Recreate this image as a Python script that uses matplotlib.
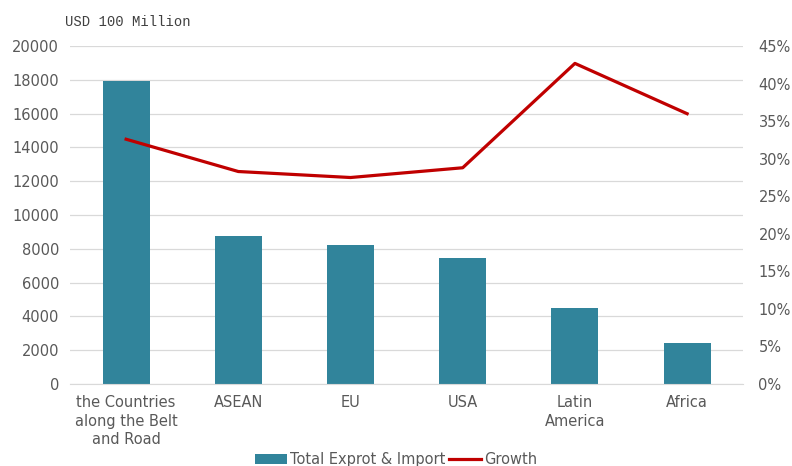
import matplotlib.pyplot as plt
from matplotlib.ticker import FuncFormatter

# data
regions = ["the Countries\nalong the Belt\nand Road", "ASEAN", "EU", "USA", "Latin\nAmerica", "Africa"]
trade = [17950, 8760, 8230, 7480, 4500, 2430]      # USD 100 million
growth = [32.6, 28.3, 27.5, 28.8, 42.7, 36.0]      # percent

bar_color = "#31849B"
line_color = "#C00000"
tick_color = "#595959"

fig = plt.figure(figsize=(7.92, 4.66), dpi=100)
ax = fig.add_axes([0.0884, 0.176, 0.85, 0.725])
x = list(range(len(regions)))

ax.bar(x, trade, width=0.42, color=bar_color, label="Total Exprot & Import", zorder=2)
ax.set_ylim(0, 20000)
ax.set_yticks(range(0, 20001, 2000))
ax.set_xlim(-0.5, len(regions) - 0.5)
ax.set_xticks(x)
ax.set_xticklabels(regions, linespacing=1.3)
ax.grid(axis="y", color="#D9D9D9", linewidth=0.9, zorder=0)
for s in ["top", "right", "left"]:
    ax.spines[s].set_visible(False)
ax.spines["bottom"].set_color("#D9D9D9")
ax.tick_params(axis="both", length=0, colors=tick_color, labelsize=10.5, pad=8)

ax2 = ax.twinx()
ax2.plot(x, growth, color=line_color, linewidth=2.3, label="Growth", zorder=3)
ax2.set_ylim(0, 45)
ax2.set_yticks(range(0, 46, 5))
ax2.yaxis.set_major_formatter(FuncFormatter(lambda v, p: "%d%%" % v))
for s in ax2.spines.values():
    s.set_visible(False)
ax2.tick_params(axis="y", length=0, colors=tick_color, labelsize=10.5, pad=11)

fig.text(0.082, 0.945, "USD 100 Million", fontsize=10, family="Liberation Mono", color="#404040")

h1, l1 = ax.get_legend_handles_labels()
h2, l2 = ax2.get_legend_handles_labels()
fig.legend(h1 + h2, l1 + l2, loc="lower center", bbox_to_anchor=(0.5, -0.03), ncol=2,
           frameon=False, fontsize=10.5, labelcolor=tick_color, handlelength=2.2,
           handletextpad=0.2, columnspacing=0.3)

fig.savefig("out.png", dpi=100)
